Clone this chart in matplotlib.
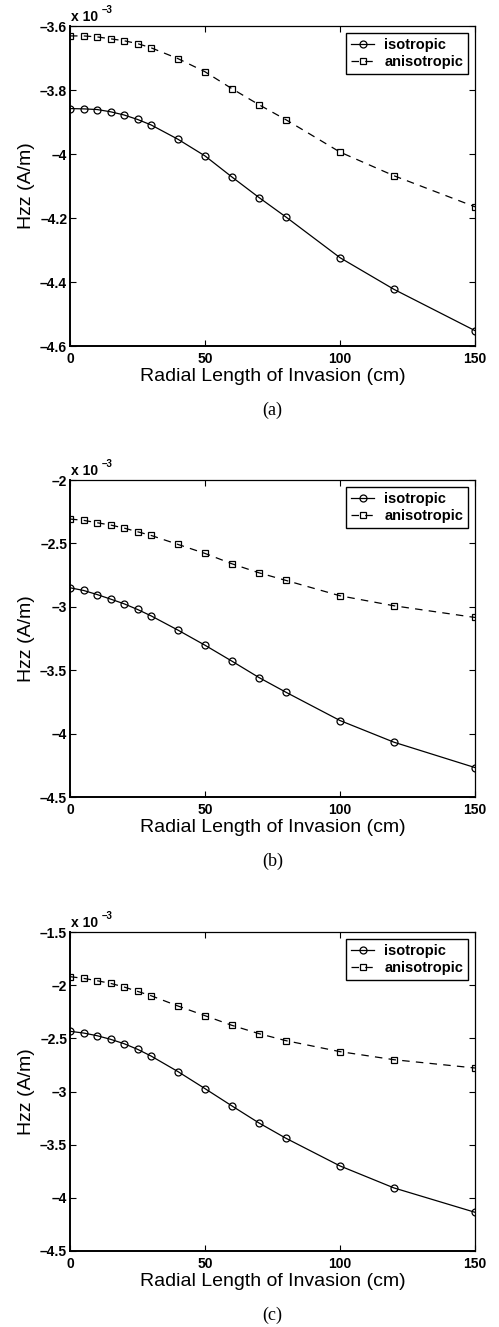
import matplotlib
matplotlib.use("Agg")
import matplotlib.pyplot as plt
from matplotlib.ticker import FixedLocator, FuncFormatter

# ---- data (values in units of 1e-3 A/m) ----
x = [0, 5, 10, 15, 20, 25, 30, 40, 50, 60, 70, 80, 100, 120, 150]

iso_a = [-3.858, -3.859, -3.861, -3.868, -3.878, -3.892, -3.909, -3.954, -4.006,
         -4.072, -4.136, -4.197, -4.324, -4.423, -4.552]
aniso_a = [-3.631, -3.631, -3.634, -3.640, -3.646, -3.655, -3.668, -3.702, -3.743,
           -3.796, -3.846, -3.893, -3.994, -4.068, -4.165]

iso_b = [-2.850, -2.871, -2.903, -2.939, -2.976, -3.021, -3.071, -3.184, -3.303,
         -3.429, -3.558, -3.674, -3.897, -4.068, -4.268]
aniso_b = [-2.308, -2.318, -2.337, -2.355, -2.379, -2.408, -2.437, -2.508, -2.579,
           -2.661, -2.732, -2.792, -2.913, -2.992, -3.084]

iso_c = [-2.434, -2.450, -2.475, -2.509, -2.550, -2.603, -2.666, -2.813, -2.973,
         -3.136, -3.296, -3.440, -3.700, -3.907, -4.136]
aniso_c = [-1.920, -1.936, -1.958, -1.983, -2.017, -2.058, -2.099, -2.196, -2.287,
           -2.378, -2.456, -2.522, -2.625, -2.701, -2.779]

yticks_a = [-4.6, -4.4, -4.2, -4.0, -3.8, -3.6]
yticks_b = [-4.5, -4.0, -3.5, -3.0, -2.5, -2.0]
yticks_c = [-4.5, -4.0, -3.5, -3.0, -2.5, -2.0, -1.5]
xticks = [0, 50, 100, 150]

series_labels = ["isotropic", "anisotropic"]
panel_labels = ["(a)", "(b)", "(c)"]
xlabel = "Radial Length of Invasion (cm)"
ylabel = "Hzz (A/m)"

plt.rcParams['font.family'] = ['Liberation Sans', 'DejaVu Sans']

W, H = 499, 1327
fig = plt.figure(figsize=(W / 100, H / 100), dpi=100)

# axes boxes in pixels: (top, bottom)
boxes = [(26, 346), (480, 797), (932, 1251)]
left_px, right_px = 70, 475

panels = [
    (iso_a, aniso_a, yticks_a),
    (iso_b, aniso_b, yticks_b),
    (iso_c, aniso_c, yticks_c),
]


def fmt(v, pos):
    s = ("%g" % v)
    return s.replace("-", "\u2013")


for (top, bot), (iso, aniso, yt), plabel in zip(boxes, panels, panel_labels):
    ax = fig.add_axes([left_px / W, 1 - bot / H, (right_px - left_px) / W, (bot - top) / H])
    ax.plot(x, iso, color='black', linestyle='-', linewidth=0.9, marker='o',
            markersize=5, markerfacecolor='none', markeredgewidth=0.9, label=series_labels[0])
    ax.plot(x, aniso, color='black', linestyle=(0, (6, 5)), linewidth=0.9, marker='s',
            markersize=4, markerfacecolor='none', markeredgewidth=0.9, label=series_labels[1])
    ax.set_xlim(0, 150)
    ax.set_ylim(yt[0], yt[-1])
    ax.xaxis.set_major_locator(FixedLocator(xticks))
    ax.yaxis.set_major_locator(FixedLocator(yt))
    ax.yaxis.set_major_formatter(FuncFormatter(fmt))
    ax.xaxis.set_major_formatter(FuncFormatter(fmt))
    ax.tick_params(direction='in', length=4, width=0.8, top=True, right=True,
                   labelsize=10, pad=2)
    ax.tick_params(axis='x', pad=4)
    for lab in ax.get_xticklabels() + ax.get_yticklabels():
        lab.set_fontweight('bold')
    for side in ['left', 'bottom']:
        ax.spines[side].set_linewidth(1.4)
    for side in ['top', 'right']:
        ax.spines[side].set_linewidth(0.9)
    ax.set_xlabel(xlabel, fontsize=14, labelpad=2)
    ax.set_ylabel(ylabel, fontsize=14, labelpad=4)
    leg = ax.legend(loc='upper right', fontsize=10.5, frameon=True, fancybox=False,
                    edgecolor='black', framealpha=1, borderaxespad=0.45,
                    handlelength=1.6, handletextpad=0.7, labelspacing=0.25,
                    borderpad=0.35, prop={'weight': 'bold', 'size': 10.5})
    leg.get_frame().set_linewidth(1.0)
    # exponent label
    ax.annotate("x 10", xy=(0, 1), xycoords='axes fraction', xytext=(1, 1.5),
                textcoords='offset points', fontsize=10, fontweight='bold',
                ha='left', va='bottom')
    ax.annotate("\u2013" + "3", xy=(0, 1), xycoords='axes fraction', xytext=(22.5, 8),
                textcoords='offset points', fontsize=7, fontweight='bold',
                ha='left', va='bottom')
    # panel caption
    fig.text((left_px + right_px) / 2 / W, 1 - (bot + 64) / H, plabel,
             family='Liberation Serif', fontsize=13, ha='center', va='center')

fig.savefig("out.png", dpi=100)
